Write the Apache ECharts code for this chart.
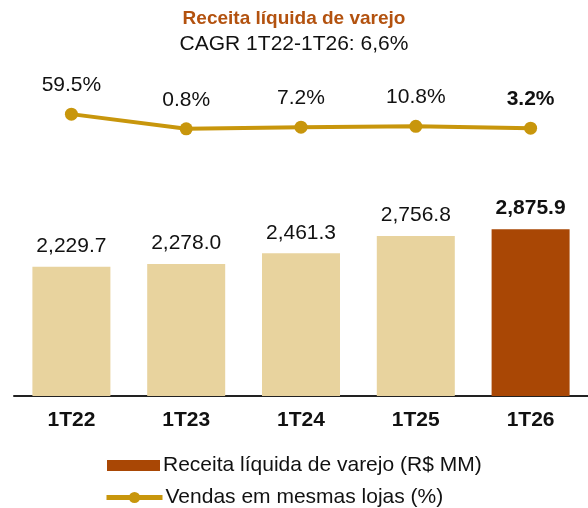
<!DOCTYPE html>
<html>
<head>
    <meta charset="utf-8">
    <title>Receita liquida de varejo</title>
    <script src="https://cdn.jsdelivr.net/npm/echarts@6/dist/echarts.min.js"></script>
    <style>
        html, body { margin: 0; padding: 0; background: #fff; }
        #main { width: 588px; height: 508px; }
    </style>
</head>
<body>
    <div id="main"></div>
    <script type="text/javascript">
        var quarters = ['1T22', '1T23', '1T24', '1T25', '1T26'];
        var receita = [2229.7, 2278.0, 2461.3, 2756.8, 2875.9];
        var sss = [59.5, 0.8, 7.2, 10.8, 3.2];

        var FONT = '"Liberation Sans", Arial, sans-serif';
        var last = quarters.length - 1;

        var myChart = echarts.init(document.getElementById('main'));

        var barData = receita.map(function (v, i) {
            return {
                value: v,
                itemStyle: { color: i === last ? '#A94705' : '#E8D39E' },
                label: { fontWeight: i === last ? 'bold' : 'normal' }
            };
        });
        var lineData = sss.map(function (v, i) {
            return { value: v, label: { fontWeight: i === last ? 'bold' : 'normal' } };
        });

        var option = {
            backgroundColor: '#fff',
            animation: false,
            textStyle: { fontFamily: FONT },
            title: {
                text: 'Receita líquida de varejo',
                subtext: 'CAGR 1T22-1T26: 6,6%',
                left: 'center',
                top: 4,
                itemGap: 6,
                textStyle: { fontFamily: FONT, fontSize: 19, fontWeight: 'bold', color: '#B3520F' },
                subtextStyle: { fontFamily: FONT, fontSize: 21, color: '#111' }
            },
            legend: [
                {
                    data: [{ name: 'Receita líquida de varejo (R$ MM)', icon: 'rect' }],
                    left: 107, top: 455, padding: 0,
                    itemWidth: 53, itemHeight: 11,
                    textStyle: { fontFamily: FONT, fontSize: 21, color: '#111', padding: [0, 0, 0, -2] }
                },
                {
                    data: ['Vendas em mesmas lojas (%)'],
                    left: 104, top: 487, padding: 0,
                    itemWidth: 56, itemHeight: 14,
                    lineStyle: { width: 5 },
                    textStyle: { fontFamily: FONT, fontSize: 21, color: '#111', padding: [0, 0, 0, -2] }
                }
            ],
            grid: [
                { left: 14, right: 0, top: 222, bottom: 112 },
                { left: 14, right: 0, top: 104, height: 25 }
            ],
            xAxis: [
                {
                    type: 'category', gridIndex: 0, data: quarters,
                    axisLine: { lineStyle: { color: '#222', width: 2 } },
                    axisTick: { show: false },
                    axisLabel: { fontFamily: FONT, fontSize: 21, fontWeight: 'bold', color: '#111', margin: 14 }
                },
                {
                    type: 'category', gridIndex: 1, data: quarters, show: false
                }
            ],
            yAxis: [
                { type: 'value', gridIndex: 0, min: 0, max: 3000, show: false, splitLine: { show: false } },
                { type: 'value', gridIndex: 1, min: 0, max: 100, show: false, splitLine: { show: false } }
            ],
            series: [
                {
                    name: 'Receita líquida de varejo (R$ MM)',
                    type: 'bar',
                    xAxisIndex: 0, yAxisIndex: 0,
                    barWidth: 78,
                    itemStyle: { color: '#A94705' },
                    data: barData,
                    label: {
                        show: true, position: 'top', distance: 10,
                        fontFamily: FONT, fontSize: 21, color: '#111',
                        formatter: function (p) {
                            return p.value.toLocaleString('en-US', { minimumFractionDigits: 1, maximumFractionDigits: 1 });
                        }
                    }
                },
                {
                    name: 'Vendas em mesmas lojas (%)',
                    type: 'line',
                    xAxisIndex: 1, yAxisIndex: 1,
                    symbol: 'circle', symbolSize: 13,
                    lineStyle: { color: '#C8960C', width: 4 },
                    itemStyle: { color: '#C8960C' },
                    data: lineData,
                    label: {
                        show: true, position: 'top', distance: 12,
                        fontFamily: FONT, fontSize: 21, color: '#111',
                        formatter: function (p) { return p.value.toFixed(1) + '%'; }
                    }
                }
            ]
        };

        myChart.setOption(option);
    </script>
</body>
</html>
